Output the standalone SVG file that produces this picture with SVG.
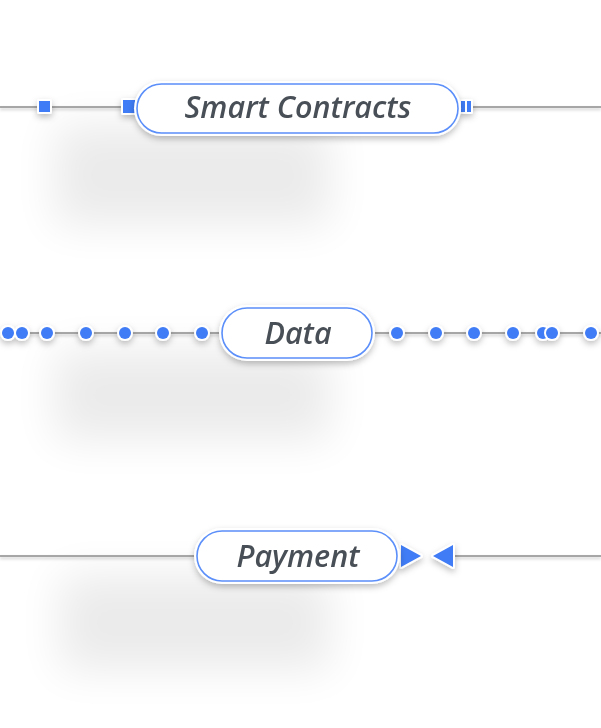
<svg xmlns="http://www.w3.org/2000/svg" width="601" height="728" viewBox="0 0 601 728">
<defs>
<filter id="big" x="-50%" y="-80%" width="200%" height="260%"><feGaussianBlur stdDeviation="22"/></filter>
<filter id="sh" x="-20%" y="-50%" width="140%" height="200%"><feDropShadow dx="0" dy="3" stdDeviation="3" flood-color="#000" flood-opacity="0.25"/></filter>
<filter id="lsh" x="-5%" y="-500%" width="110%" height="1100%"><feDropShadow dx="0" dy="2" stdDeviation="1.5" flood-color="#000" flood-opacity="0.25"/></filter>
</defs>
<style>
.ln{stroke:#8c8c8c;stroke-width:1.5;fill:none}
.pill{fill:#fff;stroke:#5b8ff9;stroke-width:1.6}
.halo{fill:#fff}
.lbl{font-family:"Open Sans","Noto Sans",sans-serif;font-style:italic;font-weight:600;fill:#4a5056}
.m{fill:#3f7bf5;stroke:#fff;stroke-width:4;paint-order:stroke;stroke-linejoin:round}
</style>
<rect width="601" height="728" fill="#fff"/>
<g id="shadows" fill="#000" opacity="0.08" filter="url(#big)">
<rect x="55" y="125" width="275" height="100"/>
<rect x="55" y="350" width="275" height="90"/>
<rect x="60" y="575" width="270" height="95"/>
</g>
<g id="connectors" filter="url(#lsh)">
<line class="ln" x1="0" y1="107" x2="137" y2="107"/>
<line class="ln" x1="460" y1="107" x2="601" y2="107"/>
<line class="ln" x1="0" y1="333" x2="222" y2="333"/>
<line class="ln" x1="372" y1="333" x2="601" y2="333"/>
<line class="ln" x1="0" y1="556" x2="197" y2="556"/>
<line class="ln" x1="455" y1="556" x2="601" y2="556"/>
</g>
<g id="markers" filter="url(#sh)">
<rect class="m" x="39" y="101" width="11" height="11"/>
<rect class="m" x="123" y="100" width="12" height="13"/>
<rect class="m" x="461" y="101" width="4" height="11" stroke-width="3"/>
<rect class="m" x="467" y="101" width="4" height="11" stroke-width="3"/>
<circle class="m" cx="8" cy="333" r="6"/>
<circle class="m" cx="22" cy="333" r="6"/>
<circle class="m" cx="47" cy="333" r="6"/>
<circle class="m" cx="86" cy="333" r="6"/>
<circle class="m" cx="125" cy="333" r="6"/>
<circle class="m" cx="163" cy="333" r="6"/>
<circle class="m" cx="202" cy="333" r="6"/>
<circle class="m" cx="397" cy="333" r="6"/>
<circle class="m" cx="436" cy="333" r="6"/>
<circle class="m" cx="474" cy="333" r="6"/>
<circle class="m" cx="513" cy="333" r="6"/>
<circle class="m" cx="543" cy="333" r="6"/>
<circle class="m" cx="552" cy="333" r="6"/>
<circle class="m" cx="591" cy="333" r="6"/>
<polygon class="m" points="401,545 421,556 401,567"/>
<polygon class="m" points="453,545 433,556 453,567"/>
</g>
<g id="node-smart-contracts" filter="url(#sh)">
<rect class="halo" x="134" y="81" width="327" height="55" rx="27.5"/>
<rect class="pill" x="137" y="84" width="321" height="49" rx="24.5"/>
<text class="lbl" x="298" y="118" font-size="30.5" text-anchor="middle">Smart Contracts</text>
</g>
<g id="node-data" filter="url(#sh)">
<rect class="halo" x="219" y="305" width="156" height="56" rx="28"/>
<rect class="pill" x="222" y="308" width="150" height="50" rx="25"/>
<text class="lbl" x="298" y="344" font-size="30.5" text-anchor="middle">Data</text>
</g>
<g id="node-payment" filter="url(#sh)">
<rect class="halo" x="194" y="528" width="206" height="56" rx="28"/>
<rect class="pill" x="197" y="531" width="200" height="50" rx="25"/>
<text class="lbl" x="298" y="567" font-size="30.5" text-anchor="middle">Payment</text>
</g>
</svg>
